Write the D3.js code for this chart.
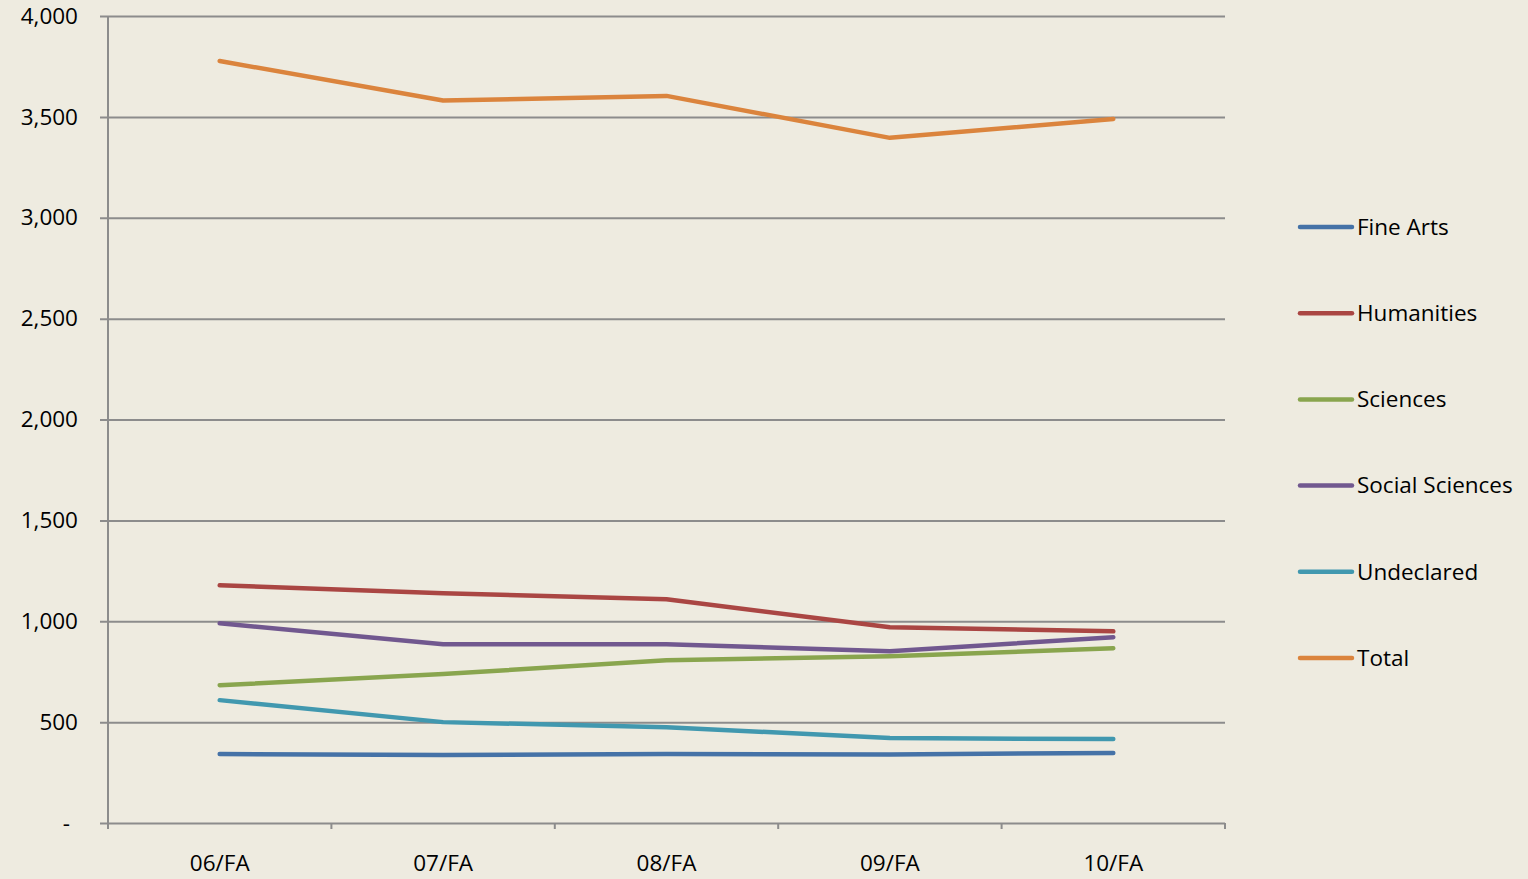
<!DOCTYPE html>
<html>
<head>
<meta charset="utf-8">
<script src="https://cdn.jsdelivr.net/npm/d3@7"></script>
<style>
  html, body { margin: 0; padding: 0; background: #eeebe0; }
  svg { display: block; }
</style>
</head>
<body>
<svg id="chart"></svg>
<script>
// data
var terms = ["06/FA", "07/FA", "08/FA", "09/FA", "10/FA"];
var seriesNames = ["Fine Arts", "Humanities", "Sciences", "Social Sciences", "Undeclared", "Total"];
var fineArts      = [342, 337, 342, 340, 347];
var humanities    = [1178, 1139, 1109, 970, 950];
var sciences      = [683, 738, 807, 827, 866];
var socialScience = [990, 886, 886, 851, 921];
var undeclared    = [609, 500, 475, 421, 416];
var total         = [3777, 3581, 3604, 3396, 3490];
var yTicks = [0, 500, 1000, 1500, 2000, 2500, 3000, 3500, 4000];
var colors = ["#4572a7", "#aa4643", "#89a54e", "#71588f", "#4198af", "#db843d"];

var allSeries = [fineArts, humanities, sciences, socialScience, undeclared, total];

var width = 1528, height = 879;
var margin = { top: 16, left: 108, right: 303, bottom: 56 };
var font = "'Open Sans', sans-serif";
var fontSize = "22.5px";

var svg = d3.select("#chart")
  .attr("width", width)
  .attr("height", height)
  .style("background", "#eeebe0");

var xScale = d3.scaleBand()
  .domain(terms)
  .range([margin.left, width - margin.right]);

var yScale = d3.scaleLinear()
  .domain([0, 4000])
  .range([height - margin.bottom, margin.top]);

// gridlines + y labels
var yAxis = d3.axisLeft(yScale)
  .tickValues(yTicks)
  .tickSize(-(width - margin.right - margin.left))
  .tickPadding(30)
  .tickFormat(d => d === 0 ? "-" : d3.format(",")(d));

var yG = svg.append("g")
  .attr("transform", "translate(" + margin.left + ",0)")
  .call(yAxis);
yG.select(".domain").remove();
yG.selectAll(".tick line")
  .attr("x1", -8)
  .attr("stroke", "#8c8c8c")
  .attr("stroke-width", 2);
yG.selectAll(".tick text")
  .attr("fill", "#000")
  .style("font-family", font)
  .style("font-size", fontSize)
  .attr("dx", d => d === 0 ? "-8px" : "0");

// y axis line
svg.append("line")
  .attr("x1", margin.left).attr("x2", margin.left)
  .attr("y1", margin.top).attr("y2", height - margin.bottom + 6)
  .attr("stroke", "#8c8c8c").attr("stroke-width", 2);

// x axis with ticks at category boundaries
var xAxis = d3.axisBottom(xScale).tickSize(0).tickPadding(32);
var xG = svg.append("g")
  .attr("transform", "translate(0," + (height - margin.bottom) + ")")
  .call(xAxis);
xG.select(".domain").remove();
xG.selectAll(".tick text")
  .attr("fill", "#000")
  .style("font-family", font)
  .style("font-size", fontSize);

svg.append("g")
  .selectAll("line")
  .data(terms.slice(1).concat(["end"]))
  .enter()
  .append("line")
  .attr("x1", (d, i) => xScale(terms[0]) + (i + 1) * xScale.step())
  .attr("x2", (d, i) => xScale(terms[0]) + (i + 1) * xScale.step())
  .attr("y1", height - margin.bottom)
  .attr("y2", height - margin.bottom + 6)
  .attr("stroke", "#8c8c8c").attr("stroke-width", 2);

// lines
var line = d3.line()
  .x((d, i) => xScale(terms[i]) + xScale.bandwidth() / 2)
  .y(d => yScale(d));

svg.append("g")
  .selectAll("path")
  .data(allSeries)
  .enter()
  .append("path")
  .attr("d", line)
  .attr("fill", "none")
  .attr("stroke", (d, i) => colors[i])
  .attr("stroke-width", 4.5)
  .attr("stroke-linecap", "round")
  .attr("stroke-linejoin", "round");

// legend
var legend = svg.append("g")
  .selectAll("g")
  .data(seriesNames)
  .enter()
  .append("g")
  .attr("transform", (d, i) => "translate(1300," + (227 + i * 86.2) + ")");

legend.append("line")
  .attr("x1", 0).attr("x2", 52)
  .attr("stroke", (d, i) => colors[i])
  .attr("stroke-width", 4.5)
  .attr("stroke-linecap", "round");

legend.append("text")
  .attr("x", 57)
  .attr("dy", "0.35em")
  .style("font-family", font)
  .style("font-size", fontSize)
  .attr("fill", "#000")
  .text(d => d);
</script>
</body>
</html>
